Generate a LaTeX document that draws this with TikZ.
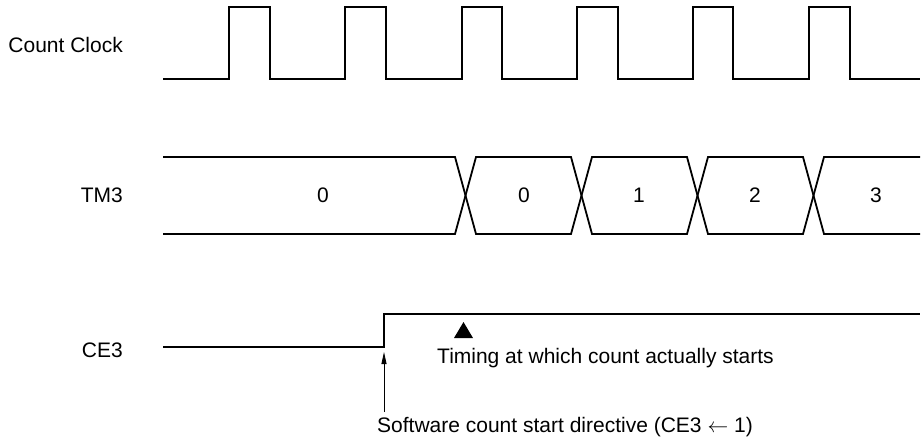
\documentclass[tikz,border=0pt]{standalone}
\usepackage{fontspec}
\setmainfont{Liberation Sans}
\usetikzlibrary{arrows.meta}
\begin{document}
\begin{tikzpicture}[x=1pt,y=-1pt,
  wave/.style={line width=1.8pt, line join=miter},
  lbl/.style={font=\fontsize{21}{25}\selectfont, inner sep=0pt},
  sig/.style={lbl, anchor=base east},
  note/.style={lbl, anchor=base west},
  val/.style={lbl, anchor=base}]
\useasboundingbox (0,0) rectangle (922,440);
% labels
\node[sig] (lclk) at (123,52) {Count Clock};
\node[sig] (ltm) at (123,202) {TM3};
\node[sig] (lce) at (123,357) {CE3};
% count clock
\draw[wave] (163,79) -- (229,79) -- (229,7) -- (270,7) -- (270,79)
  -- (345,79) -- (345,7) -- (386,7) -- (386,79)
  -- (462,79) -- (462,7) -- (502,7) -- (502,79)
  -- (577,79) -- (577,7) -- (618,7) -- (618,79)
  -- (693,79) -- (693,7) -- (733,7) -- (733,79)
  -- (809,79) -- (809,7) -- (850,7) -- (850,79) -- (920,79);
% TM3 bus
\draw[wave] (163,157) -- (455,157) -- (476,234) -- (571,234) -- (592,157) -- (687,157) -- (708,234) -- (803,234) -- (824,157) -- (920,157);
\draw[wave] (163,234) -- (455,234) -- (476,157) -- (571,157) -- (592,234) -- (687,234) -- (708,157) -- (803,157) -- (824,234) -- (920,234);
\node[val] (v0a) at (323,202) {0};
\node[val] (v0b) at (524,202) {0};
\node[val] (v1) at (639,202) {1};
\node[val] (v2) at (755,202) {2};
\node[val] (v3) at (876,202) {3};
% CE3
\draw[wave] (163,347) -- (384,347) -- (384,314) -- (920,314);
\coordinate (edge) at (384,352);
\coordinate (tail) at (384,412);
\draw[line width=0.8pt, -{Stealth[length=12pt,width=5pt,inset=0pt]}] (tail) -- (edge);
\fill (454,338) -- (463.5,322) -- (473,338) -- cycle;
\node[note] (timing) at (437,363) {Timing at which count actually starts};
\node[note] (sw) at (377,432) {Software count start directive (CE3 $\leftarrow$ 1)};
\end{tikzpicture}
\end{document}
